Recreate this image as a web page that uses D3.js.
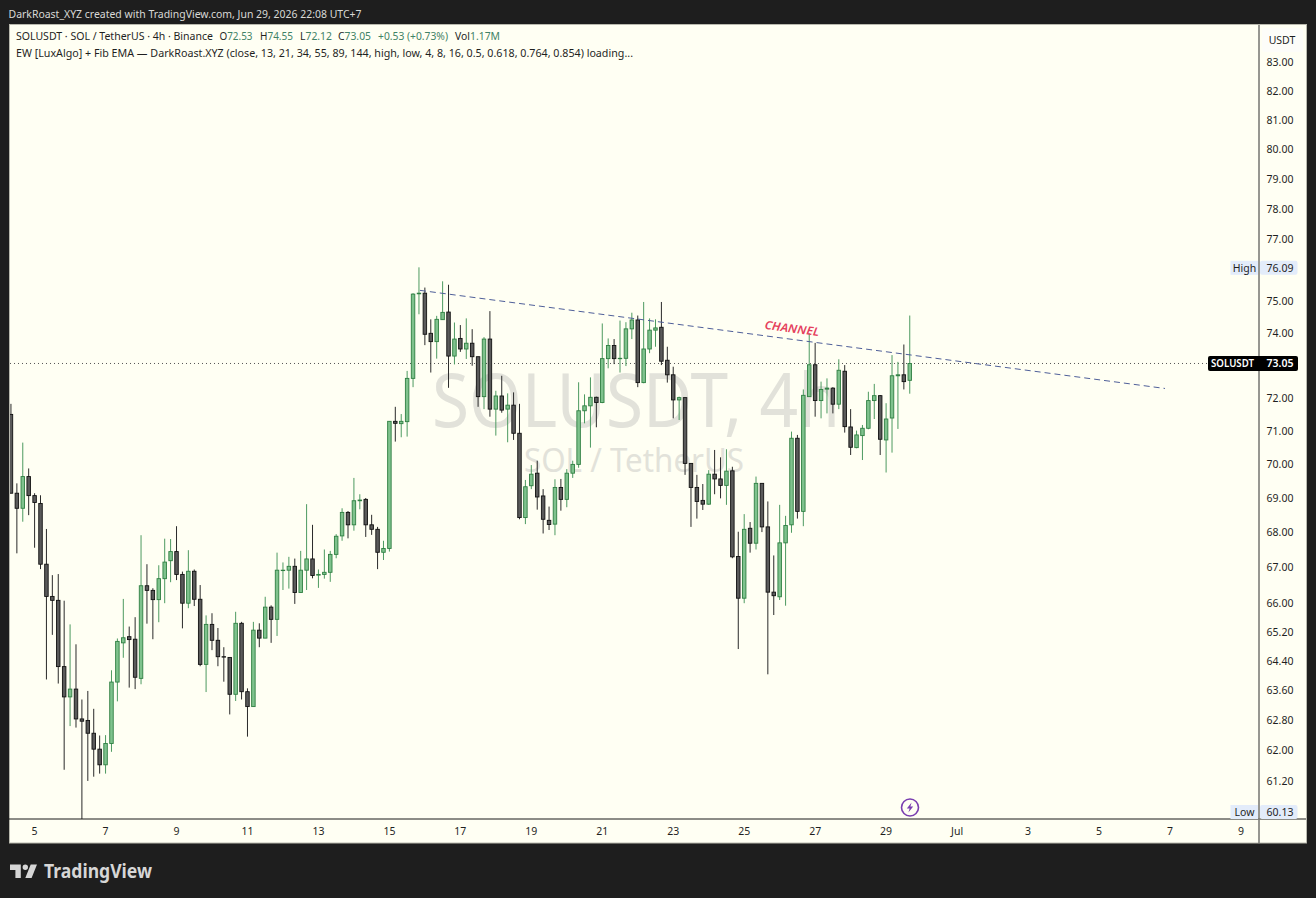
<!DOCTYPE html>
<html>
<head>
<meta charset="utf-8">
<script src="https://cdn.jsdelivr.net/npm/d3@7"></script>
<style>
html,body{margin:0;padding:0;background:#1e1e1e;overflow:hidden}
svg{display:block}
text{font-family:"Noto Sans",sans-serif}
</style>
</head>
<body>
<svg id="c" width="1316" height="898"></svg>
<script>
const opens=[
71.49,69.14,68.70,69.63,69.07,68.84,67.09,66.18,66.07,64.24,
63.42,63.63,62.83,62.79,62.45,62.03,61.62,62.18,63.82,64.89,
65.06,64.99,63.92,66.48,66.35,66.09,66.68,67.19,67.45,66.80,
65.99,66.89,66.10,64.30,65.40,64.96,64.51,64.49,63.49,65.43,
63.56,63.16,65.24,65.02,65.88,65.54,66.91,66.92,67.03,66.29,
66.92,67.24,66.78,66.80,66.86,67.37,67.90,68.58,68.22,68.92,
68.96,68.22,68.09,67.43,67.54,71.28,71.21,71.27,72.59,75.24,
75.26,73.99,73.73,74.42,74.66,73.28,73.83,73.50,73.68,73.26,
72.03,73.81,71.65,72.05,71.65,71.77,70.92,68.43,69.36,69.73,
69.06,68.35,68.24,69.31,68.96,69.73,69.99,71.60,71.75,72.01,
71.85,73.20,73.61,73.20,73.21,74.13,74.41,72.46,73.50,74.09,
74.18,73.15,72.70,71.93,72.00,70.02,69.31,68.93,68.82,69.70,
69.56,69.37,69.80,67.31,66.13,68.12,67.69,69.43,68.16,66.30,
66.17,67.70,68.22,70.77,68.61,72.03,73.01,71.91,72.26,72.29,
71.80,72.81,71.11,70.49,70.85,71.07,71.91,72.06,70.72,71.38,
72.67,72.70,72.53];
const highs=[
71.81,69.43,70.64,69.87,69.14,69.08,68.10,66.78,66.81,66.06,
65.40,64.85,63.35,63.58,63.10,62.39,62.40,64.14,65.01,66.11,
65.34,65.60,67.92,67.09,66.41,67.06,67.82,67.81,68.18,66.88,
67.49,66.94,66.50,65.65,65.71,65.30,64.77,64.49,65.75,65.47,
63.65,65.47,65.43,66.17,65.93,67.42,67.14,67.30,67.25,67.47,
68.82,68.22,66.94,67.51,67.47,67.95,68.70,68.62,69.59,69.11,
69.00,68.51,68.16,67.76,71.28,71.72,71.50,72.82,75.26,76.09,
75.44,74.43,74.54,75.64,75.53,74.33,74.25,74.46,74.12,73.26,
73.87,74.69,72.21,72.67,72.13,72.16,71.81,69.53,69.97,70.10,
69.26,68.75,69.55,69.56,69.85,70.10,72.47,72.10,72.62,72.03,
74.30,73.83,73.81,74.39,74.34,74.64,74.55,74.98,74.46,74.43,
74.98,73.57,72.95,72.03,72.00,70.02,69.68,69.41,69.82,70.42,
70.20,70.44,69.92,68.02,68.53,68.30,69.63,69.43,68.90,67.34,
68.80,68.48,70.97,70.87,72.25,73.99,73.69,72.49,72.59,72.32,
73.18,73.00,71.65,71.00,71.17,72.18,72.42,72.08,71.83,73.31,
73.10,73.64,74.55];
const lows=[
69.14,67.40,68.31,68.50,67.56,66.95,63.89,65.11,63.78,61.49,
62.64,62.60,60.13,61.20,61.31,61.39,61.39,61.96,63.30,64.48,
63.67,63.63,63.76,65.42,64.99,65.46,65.99,66.58,66.64,65.29,
65.85,65.91,64.25,63.55,64.69,64.25,63.83,62.95,63.31,63.35,
62.36,63.16,64.77,65.02,64.89,65.08,66.36,66.40,65.97,66.29,
66.36,66.69,66.42,66.68,66.59,67.26,67.76,67.83,68.05,68.67,
67.87,67.93,66.95,67.21,67.45,70.67,70.80,70.82,72.32,74.59,
73.62,72.77,73.20,74.41,72.30,73.02,73.41,73.19,72.98,71.72,
71.65,71.42,70.85,71.54,70.65,70.72,68.38,68.24,69.26,68.66,
67.97,68.07,67.92,68.63,68.73,69.59,69.89,71.22,70.49,71.10,
71.83,72.90,73.03,72.77,72.97,73.81,72.32,72.44,73.37,73.57,
73.00,72.46,71.37,71.32,69.68,68.16,68.40,68.65,68.80,69.11,
68.99,68.80,67.26,64.72,65.99,67.42,67.51,68.01,64.03,65.66,
66.08,65.92,67.99,68.40,68.18,72.03,71.42,71.37,71.52,71.52,
71.65,70.94,70.27,70.47,70.12,71.04,71.35,70.27,69.75,70.34,
71.05,72.25,72.12];
const closes=[
69.14,68.70,69.63,69.07,68.87,67.09,66.18,66.07,64.24,63.42,
63.63,62.83,62.77,62.45,62.03,61.62,62.18,63.82,64.93,65.03,
64.98,63.95,66.48,66.35,66.09,66.68,67.15,67.45,66.80,65.99,
66.89,66.10,64.30,65.40,64.96,64.51,64.50,63.49,65.43,63.56,
63.16,65.24,65.02,65.88,65.54,66.92,66.92,67.03,66.29,66.92,
67.24,66.77,66.80,66.86,67.37,67.89,68.58,68.22,68.92,68.94,
68.22,68.09,67.43,67.54,71.28,71.22,71.28,72.59,75.23,75.26,
73.96,73.73,74.43,74.65,73.28,73.81,73.50,73.68,73.26,72.03,
73.81,71.65,72.05,71.62,71.77,70.92,68.43,69.33,69.70,69.03,
68.38,68.23,69.31,68.96,69.73,69.99,71.60,71.75,72.01,71.85,
73.20,73.61,73.20,73.21,74.13,74.41,72.46,73.50,74.09,74.16,
73.12,72.70,71.93,72.00,70.02,69.31,68.90,68.82,69.70,69.56,
69.37,69.79,67.30,66.13,68.09,67.69,69.43,68.16,66.30,66.20,
67.70,68.20,70.77,68.61,72.07,73.01,71.91,72.25,72.29,71.80,
72.84,71.12,70.50,70.87,71.07,71.91,72.06,70.74,71.35,72.67,
72.70,72.49,73.05];

const priceTicks=[83,82,81,80,79,78,77,75,74,72,71,70,69,68,67,66,65.2,64.4,63.6,62.8,62,61.2];
const dayTicks=["2026-06-05","2026-06-07","2026-06-09","2026-06-11","2026-06-13","2026-06-15","2026-06-17","2026-06-19","2026-06-21","2026-06-23","2026-06-25","2026-06-27","2026-06-29","2026-07-01","2026-07-03","2026-07-05","2026-07-07","2026-07-09"];
const dayLabels=["5","7","9","11","13","15","17","19","21","23","25","27","29","Jul","3","5","7","9"];
const trendTimes=["2026-06-15T23:40:00Z","2026-07-06T23:40:00Z"];
const trendPrices=[75.35,72.28];
const lastPrice=73.05, highPrice=76.09, lowPrice=60.13;

const firstBar=Date.UTC(2026,5,4,11);
const barTime=i=>new Date(firstBar+i*4*3600*1000);
const tickTime=s=>new Date(s+"T03:00:00Z");

const x=d3.scaleUtc()
  .domain([tickTime("2026-06-05"),tickTime("2026-07-09")])
  .range([34.6,1240.9]);
const y=d3.scaleLog().domain([83,62]).range([62.3,750.3]);

const svg=d3.select("#c");
const defs=svg.append("defs");
defs.append("clipPath").attr("id","plot").append("rect")
  .attr("x",10).attr("y",25).attr("width",1248).attr("height",794);

const BG="#fffff3", INK="#1f1f1f";

// Panel
svg.append("rect").attr("width",1316).attr("height",898).attr("fill","#1e1e1e");
svg.append("rect").attr("x",9.5).attr("y",24.5).attr("width",1297).attr("height",818.5)
  .attr("fill",BG).attr("stroke","#b9b9ae").attr("stroke-width",1);

function txt(g,tx,ty,s,o={}){
  const t=g.append("text").attr("x",tx).attr("y",ty).text(s)
    .attr("font-size",o.size||10.5).attr("fill",o.fill||INK)
    .attr("text-anchor",o.anchor||"start").attr("dominant-baseline","central");
  if(o.width){t.attr("textLength",o.width).attr("lengthAdjust","spacingAndGlyphs");}
  if(o.weight)t.attr("font-weight",o.weight);
  if(o.family)t.attr("font-family",o.family);
  return t;
}

// Watermark
const wm=svg.append("g");
txt(wm,432,398,"SOLUSDT, 4h",{size:74,fill:"#e2e2da",width:408,family:"'Noto Sans',sans-serif"});
txt(wm,524,459,"SOL / TetherUS",{size:32,fill:"#e2e2da",width:220});

const plot=svg.append("g").attr("clip-path","url(#plot)");

// Last price dotted line
plot.append("line").attr("x1",10).attr("x2",1208)
  .attr("y1",y(lastPrice)).attr("y2",y(lastPrice))
  .attr("stroke","#555").attr("stroke-width",1).attr("stroke-dasharray","1 3");

// Candles
const bars=d3.range(opens.length).map(i=>({t:barTime(i),o:opens[i],h:highs[i],l:lows[i],c:closes[i]}));
const UP={fill:"#7fc28d",stroke:"#2f7f42",wick:"#4d9a60"};
const DN={fill:"#5a5a5a",stroke:"#111111",wick:"#2a2a2a"};
const sty=d=>d.c>=d.o?UP:DN;
const cg=plot.append("g");
cg.selectAll("line").data(bars).join("line")
  .attr("x1",d=>x(d.t)).attr("x2",d=>x(d.t))
  .attr("y1",d=>y(d.h)).attr("y2",d=>y(d.l))
  .attr("stroke",d=>sty(d).wick).attr("stroke-width",1);
cg.selectAll("rect").data(bars).join("rect")
  .attr("x",d=>x(d.t)-1.75).attr("width",3.5)
  .attr("y",d=>y(Math.max(d.o,d.c)))
  .attr("height",d=>Math.max(0.4,Math.abs(y(d.o)-y(d.c))))
  .attr("fill",d=>sty(d).fill).attr("stroke",d=>sty(d).stroke).attr("stroke-width",0.9);

// Trend line
const trendLine=d3.line().x(d=>x(d[0])).y(d=>y(d[1]));
plot.append("path")
  .datum(trendTimes.map((t,i)=>[new Date(t),trendPrices[i]]))
  .attr("d",trendLine).attr("fill","none")
  .attr("stroke","#4f5f99").attr("stroke-width",1).attr("stroke-dasharray","6 4");

// Channel note
const note=svg.append("g").attr("transform","translate(792,328) rotate(7.5)");
note.append("text").text("CHANNEL").attr("text-anchor","middle").attr("dominant-baseline","central")
  .attr("font-size",11.5).attr("font-weight",600).attr("font-style","italic").attr("fill","#e5405c")
  .attr("textLength",55).attr("lengthAdjust","spacingAndGlyphs");

// Lightning marker
const bolt=svg.append("g").attr("transform","translate(910,807.5)");
bolt.append("circle").attr("r",8.5).attr("fill",BG).attr("stroke","#7a3fb0").attr("stroke-width",1.6);
bolt.append("path").attr("d","M1.6,-5 L-3.2,0.9 L-0.4,0.9 L-1.6,5 L3.2,-0.9 L0.4,-0.9 Z").attr("fill","#7a3fb0");

// Price axis
const yAxis=d3.axisRight(y).tickValues(priceTicks).tickSize(0).tickPadding(0).offset(0).tickFormat(d3.format(".2f"));
const ya=svg.append("g").attr("transform","translate(1280,0)").call(yAxis);
ya.select(".domain").remove();
ya.selectAll("text").attr("text-anchor","middle").attr("x",0).attr("dy",null)
  .attr("dominant-baseline","central").attr("font-size",10.5).attr("fill",INK)
  .style("font-family",'"Noto Sans",sans-serif');

// Time axis
const xAxis=d3.axisBottom(x).tickValues(dayTicks.map(tickTime)).tickSize(0).tickPadding(0).offset(0)
  .tickFormat((d,i)=>dayLabels[i]);
const xa=svg.append("g").attr("transform","translate(0,831)").call(xAxis);
xa.select(".domain").remove();
xa.selectAll("text").attr("y",0).attr("dy",null).attr("dominant-baseline","central")
  .attr("font-size",10.5).attr("fill",INK).style("font-family",'"Noto Sans",sans-serif');

// Axis separators
svg.append("line").attr("x1",9).attr("x2",1306).attr("y1",819).attr("y2",819).attr("stroke","#1a1a1a").attr("stroke-width",1);
svg.append("line").attr("x1",1259).attr("x2",1259).attr("y1",25).attr("y2",843).attr("stroke","#7d7d78").attr("stroke-width",1.6);

// USDT box
svg.append("rect").attr("x",1262).attr("y",28).attr("width",41).attr("height",24).attr("rx",3).attr("fill","#fdfdf9");
txt(svg,1282,40,"USDT",{anchor:"middle",size:10.5});

// High / Low labels
const LBL="#e3ecfa";
function hl(name,val,cy){
  svg.append("rect").attr("x",1230.5).attr("y",cy-7).attr("width",27.5).attr("height",14).attr("fill",LBL);
  svg.append("rect").attr("x",1260).attr("y",cy-7).attr("width",37.5).attr("height",14).attr("rx",2).attr("fill",LBL);
  txt(svg,1244.5,cy,name,{anchor:"middle",size:10.5});
  txt(svg,1280,cy,d3.format(".2f")(val),{anchor:"middle",size:10.5});
}
hl("High",highPrice,y(highPrice)+0.5);
hl("Low",lowPrice,812);

// Last price label
const ly=y(lastPrice);
svg.append("rect").attr("x",1208).attr("y",ly-7.5).attr("width",90).attr("height",15).attr("rx",2).attr("fill","#000");
txt(svg,1232.5,ly,"SOLUSDT",{anchor:"middle",size:10.5,fill:"#fff",width:43,weight:600});
txt(svg,1280,ly,d3.format(".2f")(lastPrice),{anchor:"middle",size:10.5,fill:"#fff",weight:600});

// Title
txt(svg,8.5,13.5,"DarkRoast_XYZ created with TradingView.com, Jun 29, 2026 22:08 UTC+7",{size:10.5,fill:"#d9d9d6",width:353});

// Legend
const VAL="#3f8266";
const leg=svg.append("g");
txt(leg,16,36,"SOLUSDT · SOL / TetherUS · 4h · Binance",{size:10.5,width:197});
const ohlc=[["O","72.53",219.5,33],["H","74.55",260,33],["L","72.12",300,32],["C","73.05",338,33]];
ohlc.forEach(([k,v,px,w])=>{
  const t=leg.append("text").attr("x",px).attr("y",36).attr("font-size",10.5).attr("dominant-baseline","central")
    .attr("textLength",w).attr("lengthAdjust","spacingAndGlyphs");
  t.append("tspan").attr("fill",INK).text(k);
  t.append("tspan").attr("fill",VAL).text(v);
});
txt(leg,378,36,"+0.53 (+0.73%)",{size:10.5,fill:VAL,width:70});
const vol=leg.append("text").attr("x",455).attr("y",36).attr("font-size",10.5).attr("dominant-baseline","central")
  .attr("textLength",45).attr("lengthAdjust","spacingAndGlyphs");
vol.append("tspan").attr("fill",INK).text("Vol");
vol.append("tspan").attr("fill",VAL).text("1.17M");
txt(leg,16,52.5,"EW [LuxAlgo] + Fib EMA — DarkRoast.XYZ (close, 13, 21, 34, 55, 89, 144, high, low, 4, 8, 16, 0.5, 0.618, 0.764, 0.854) loading...",{size:10.5,width:617});

// Logo
svg.append("path").attr("transform","translate(8.2,859.1) scale(0.9)")
  .attr("d","M14 6H2v6h6v9h6V6Zm12 15h-7l6-15h7l-6 15Zm-7-9a3 3 0 1 0 0-6 3 3 0 0 0 0 6Z")
  .attr("fill","#d6d6d6");
txt(svg,44,871,"TradingView",{size:19,weight:700,fill:"#d6d6d6",width:108,family:"Inter,'Noto Sans',sans-serif"});
</script>
</body>
</html>
